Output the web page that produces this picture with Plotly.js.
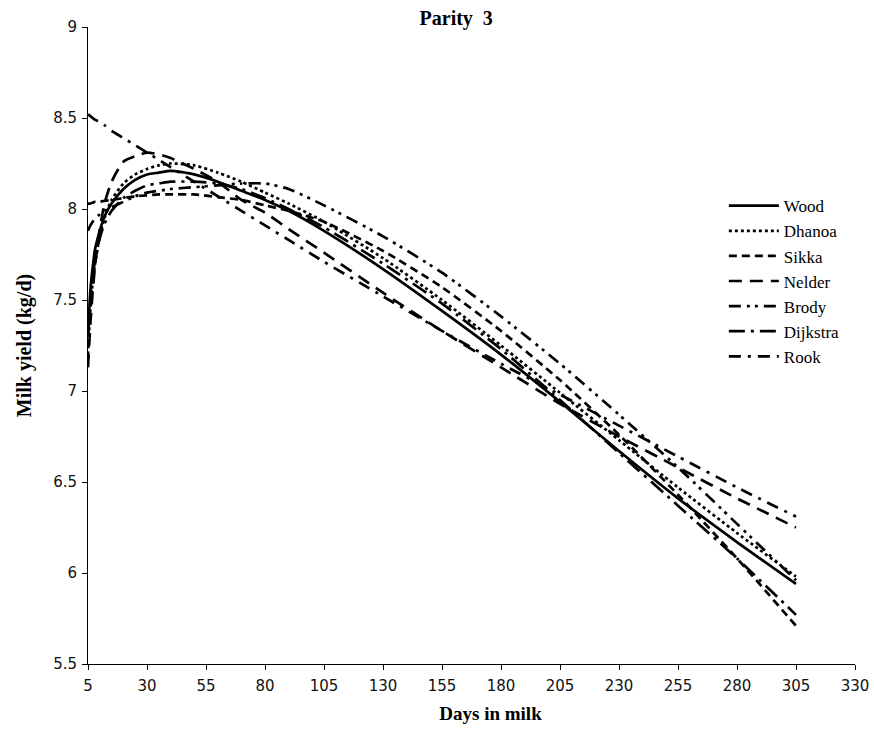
<!DOCTYPE html>
<html>
<head>
<meta charset="utf-8">
<script src="https://cdn.plot.ly/plotly-3.0.1.min.js"></script>
<style>html,body{margin:0;padding:0;background:#fff;}#chart{width:874px;height:731px;}</style>
</head>
<body>
<div id="chart"></div>
<script>
// Days in milk (x values shared by all curves)
const days = [5, 6, 7, 8, 10, 12, 15, 20, 25, 30, 35, 40, 50, 60, 70, 80, 90, 105, 130, 155, 180, 205, 230, 255, 280, 305];

// Milk yield (kg/d), one array per model
const wood     = [7.30, 7.55, 7.68, 7.78, 7.88, 7.96, 8.03, 8.11, 8.16, 8.19, 8.20, 8.21, 8.19, 8.15, 8.10, 8.05, 7.99, 7.88, 7.67, 7.44, 7.20, 6.94, 6.67, 6.41, 6.17, 5.94];
const dhanoa   = [7.20, 7.45, 7.60, 7.70, 7.85, 7.95, 8.05, 8.14, 8.19, 8.22, 8.24, 8.25, 8.24, 8.20, 8.15, 8.09, 8.03, 7.93, 7.73, 7.50, 7.25, 6.99, 6.73, 6.47, 6.22, 5.98];
const sikka    = [8.03, 8.03, 8.035, 8.04, 8.04, 8.045, 8.05, 8.06, 8.07, 8.075, 8.08, 8.08, 8.08, 8.065, 8.05, 8.02, 7.99, 7.93, 7.77, 7.57, 7.33, 7.06, 6.76, 6.43, 6.08, 5.71];
const nelder   = [7.13, 7.37, 7.55, 7.69, 7.89, 8.03, 8.15, 8.26, 8.29, 8.31, 8.30, 8.28, 8.22, 8.15, 8.05, 7.98, 7.89, 7.76, 7.54, 7.33, 7.13, 6.93, 6.75, 6.58, 6.41, 6.25];
const brody    = [7.88, 7.91, 7.93, 7.95, 7.97, 7.99, 8.01, 8.04, 8.07, 8.09, 8.10, 8.11, 8.12, 8.13, 8.14, 8.14, 8.11, 8.02, 7.85, 7.65, 7.41, 7.15, 6.87, 6.58, 6.27, 5.96];
const dijkstra = [7.30, 7.50, 7.62, 7.72, 7.84, 7.92, 7.99, 8.06, 8.10, 8.13, 8.14, 8.15, 8.15, 8.14, 8.11, 8.06, 8.00, 7.90, 7.70, 7.48, 7.23, 6.95, 6.66, 6.37, 6.08, 5.77];
const rook     = [8.52, 8.51, 8.50, 8.49, 8.48, 8.46, 8.43, 8.39, 8.35, 8.31, 8.27, 8.23, 8.15, 8.07, 7.99, 7.91, 7.83, 7.71, 7.52, 7.33, 7.15, 6.98, 6.81, 6.64, 6.47, 6.31];

const seriesNames = ['Wood', 'Dhanoa', 'Sikka', 'Nelder', 'Brody', 'Dijkstra', 'Rook'];
const seriesValues = [wood, dhanoa, sikka, nelder, brody, dijkstra, rook];
const dashes = ['solid', 'dot', '8px,5px', '13px,8px', '12px,6px,3px,5px,3px,6px', '16px,6px,3px,6px', '12px,7px,3px,7px'];

const xTicks = [5, 30, 55, 80, 105, 130, 155, 180, 205, 230, 255, 280, 305, 330];
const yTicks = [5.5, 6, 6.5, 7, 7.5, 8, 8.5, 9];

const traces = seriesNames.map((name, i) => ({
  x: days,
  y: seriesValues[i],
  name: name,
  type: 'scatter',
  mode: 'lines',
  line: {color: '#000', width: 2.7, dash: dashes[i], shape: 'spline', smoothing: 0.6},
  hoverinfo: 'skip'
}));

const tickFont = {family: '"DejaVu Sans", Verdana, sans-serif', size: 15, color: '#111'};
const serif = '"Liberation Serif", "Times New Roman", serif';

const layout = {
  width: 874,
  height: 731,
  margin: {l: 88, r: 19, t: 27, b: 67},
  paper_bgcolor: '#fff',
  plot_bgcolor: '#fff',
  showlegend: true,
  title: {
    text: '<b>Parity&nbsp; 3</b>',
    font: {family: serif, size: 20, color: '#000'},
    x: 0.522, xref: 'container', xanchor: 'center',
    y: 0.975, yref: 'container', yanchor: 'middle'
  },
  xaxis: {
    range: [5, 330],
    tickmode: 'array', tickvals: xTicks, ticktext: xTicks.map(String),
    showgrid: false, zeroline: false,
    showline: true, linecolor: '#000', linewidth: 1,
    ticks: 'outside', ticklen: 5, tickcolor: '#000',
    ticklabelstandoff: 3,
    tickfont: tickFont,
    title: {text: '<b>&nbsp;&nbsp;&nbsp;&nbsp;&nbsp;&nbsp;&nbsp;&nbsp;Days in milk</b>', font: {family: serif, size: 19, color: '#000'}, standoff: 12}
  },
  yaxis: {
    range: [5.5, 9],
    tickmode: 'array', tickvals: yTicks, ticktext: yTicks.map(String),
    showgrid: false, zeroline: false,
    showline: true, linecolor: '#000', linewidth: 1,
    ticks: 'outside', ticklen: 5, tickcolor: '#000',
    ticklabelstandoff: 2,
    tickfont: tickFont,
    title: {text: '<b>Milk yield (kg/d)</b>', font: {family: serif, size: 20, color: '#000'}, standoff: 16}
  },
  legend: {
    x: 0.829, xanchor: 'left', xref: 'paper',
    y: 0.747, yanchor: 'top', yref: 'paper',
    font: {family: serif, size: 17, color: '#000'},
    bgcolor: 'rgba(255,255,255,0)',
    traceorder: 'normal',
    itemwidth: 50
  }
};

Plotly.newPlot('chart', traces, layout, {displayModeBar: false, staticPlot: true});
</script>
</body>
</html>
